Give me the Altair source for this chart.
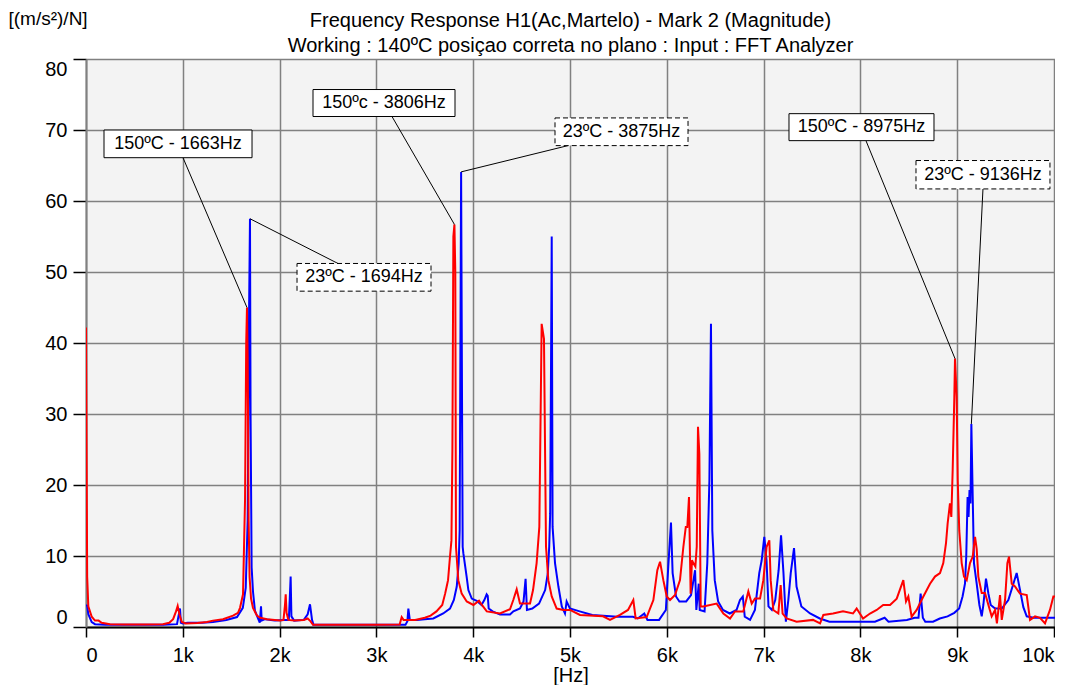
import altair as alt
import pandas as pd

FONT = "Liberation Sans"

# ---- series: 150ºC (red) ----
red_hz = [0, 12, 24, 59, 93, 130, 162, 248, 400, 600, 795, 860, 900, 930, 947, 965, 990, 1030, 1150, 1250,
          1312, 1415, 1519, 1570, 1591, 1622, 1643, 1655, 1663, 1670, 1680, 1690, 1705, 1725, 1766, 1800, 1870,
          2004, 2040, 2055, 2063, 2072, 2090, 2150, 2250, 2290, 2320, 2345, 2600, 3000, 3240, 3261, 3280, 3400,
          3500, 3560, 3620, 3680, 3710, 3726, 3740, 3760, 3775, 3785, 3795, 3806, 3815, 3822, 3846, 3881, 3933,
          4002, 4060, 4080, 4140, 4277, 4380, 4414, 4449, 4483, 4587, 4618, 4655, 4683, 4707, 4731, 4752, 4776,
          4811, 4862, 4931, 5000, 5103, 5341, 5413, 5516, 5599, 5654, 5678, 5792, 5861, 5902, 5930, 5964, 5999,
          6033, 6085, 6136, 6171, 6196, 6212, 6229, 6246, 6260, 6274, 6295, 6309, 6322, 6336, 6350, 6377, 6515,
          6584, 6653, 6704, 6790, 6842, 6877, 6911, 6963, 6997, 7031, 7059, 7073, 7100, 7152, 7176, 7196, 7238,
          7341, 7510, 7583, 7617, 7717, 7820, 7923, 7961, 8027, 8099, 8168, 8235, 8306, 8375, 8443, 8471, 8495,
          8529, 8581, 8650, 8719, 8770, 8822, 8856, 8884, 8901, 8925, 8939, 8953, 8970, 8977, 8994, 9005, 9021,
          9046, 9070, 9098, 9132, 9160, 9184, 9201, 9218, 9253, 9287, 9322, 9356, 9391, 9410, 9442, 9460, 9494,
          9518, 9535, 9563, 9597, 9649, 9718, 9752, 9804, 9855, 9907, 9958, 9993, 10010]
red_val = [42.2, 7.1, 2.9, 1.45, 0.9, 0.9, 0.6, 0.4, 0.35, 0.35, 0.4, 0.6, 1.1, 2.2, 2.95, 1.8, 0.7, 0.5, 0.55, 0.7,
           0.9, 1.1, 1.6, 2.0, 2.7, 4.6, 18.0, 40.0, 45.0, 38.0, 15.0, 7.0, 4.0, 2.7, 1.6, 1.3, 1.1,
           0.9, 1.0, 3.0, 4.6, 2.0, 1.0, 0.9, 1.0, 1.2, 0.8, 0.3, 0.3, 0.3, 0.35, 1.4, 1.0, 1.0,
           1.3, 1.6, 2.2, 3.1, 4.7, 5.7, 6.6, 9.9, 12.2, 25.0, 55.0, 56.7, 50.0, 11.3, 6.6, 4.7, 3.6,
           3.1, 3.7, 3.3, 2.2, 1.9, 2.5, 3.8, 5.3, 3.3, 3.3, 5.2, 9.0, 14.1, 42.7, 40.6, 11.3, 6.6,
           4.3, 2.6, 2.4, 2.4, 1.7, 1.5, 1.0, 1.7, 2.4, 3.8, 1.2, 1.4, 3.8, 8.0, 9.2, 6.6, 4.3,
           3.8, 4.5, 6.6, 11.3, 14.1, 14.1, 18.3, 4.7, 9.4, 9.0, 8.5, 11.3, 28.2, 24.4, 2.9, 2.9, 3.3,
           1.9, 1.2, 2.2, 2.2, 5.0, 3.3, 4.0, 4.0, 6.6, 11.3, 12.2, 6.6, 2.4, 1.9, 5.9, 1.9, 1.2,
           0.75, 1.0, 0.5, 1.7, 1.9, 2.2, 1.9, 2.6, 1.2, 1.9, 2.4, 3.1, 3.1, 4.0, 6.6, 3.6, 4.3,
           1.45, 2.4, 4.3, 6.1, 7.1, 7.6, 9.0, 11.8, 14.6, 17.4, 15.5, 22.1, 32.4, 37.8, 32.4, 20.7, 13.6,
           9.0, 7.1, 6.6, 9.0, 9.9, 12.7, 11.0, 7.1, 4.8, 4.8, 3.1, 1.5, 2.4, 0.5, 4.5, 1.0, 3.8,
           9.0, 9.9, 6.1, 5.7, 4.7, 4.5, 1.0, 1.5, 1.3, 0.5, 2.4, 4.3, 4.3]

# ---- series: 23ºC (blue) ----
blue_hz = [0, 12, 24, 59, 93, 200, 500, 800, 940, 955, 971, 980, 1000, 1050, 1200, 1312, 1450, 1560, 1620, 1650,
           1670, 1685, 1694, 1700, 1711, 1725, 1745, 1780, 1795, 1808, 1815, 1850, 1950, 2050, 2095, 2105, 2114,
           2122, 2150, 2250, 2290, 2314, 2335, 2350, 2600, 3000, 3300, 3320, 3330, 3345, 3420, 3500, 3588, 3690,
           3760, 3800, 3830, 3850, 3860, 3868, 3875, 3885, 3891, 3898, 3932, 3950, 3985, 4036, 4085, 4115, 4139,
           4150, 4160, 4200, 4277, 4380, 4415, 4483, 4520, 4541, 4555, 4610, 4680, 4743, 4770, 4785, 4795, 4803,
           4811, 4820, 4845, 4880, 4915, 4948, 4965, 4999, 5100, 5230, 5490, 5650, 5700, 5767, 5800, 5920, 5990,
           6015, 6043, 6060, 6095, 6130, 6200, 6250, 6280, 6292, 6305, 6330, 6340, 6390, 6418, 6440, 6456, 6470,
           6495, 6530, 6580, 6650, 6720, 6756, 6785, 6805, 6860, 6910, 6955, 6980, 7007, 7030, 7050, 7085, 7120,
           7155, 7180, 7205, 7230, 7255, 7280, 7314, 7340, 7390, 7480, 7580, 7680, 7950, 8150, 8250, 8290, 8480,
           8560, 8600, 8622, 8645, 8670, 8750, 8820, 8900, 8970, 9020, 9055, 9080, 9093, 9107, 9117, 9127, 9137,
           9146, 9160, 9173, 9201, 9229, 9253, 9270, 9297, 9322, 9346, 9391, 9460, 9528, 9580, 9614, 9649, 9683,
           9718, 9786, 10010]
blue_val = [3.1, 3.0, 1.8, 0.7, 0.4, 0.3, 0.3, 0.3, 0.4, 1.5, 2.6, 0.6, 0.5, 0.6, 0.6, 0.7, 1.0, 1.4, 2.7, 5.5,
            15.0, 45.0, 57.5, 30.0, 8.4, 5.0, 2.3, 1.1, 0.6, 2.9, 0.9, 1.1, 0.9, 1.0, 1.0, 4.0, 7.1,
            1.5, 0.9, 1.0, 1.8, 3.2, 1.0, 0.3, 0.3, 0.3, 0.3, 0.8, 2.6, 1.0, 1.0, 1.1, 1.2, 1.9,
            2.6, 3.8, 5.7, 9.0, 13.6, 40.0, 64.1, 30.0, 11.3, 10.4, 7.1, 5.2, 4.0, 3.7, 3.1, 3.8, 4.6,
            4.4, 2.6, 2.2, 1.75, 1.75, 2.2, 2.6, 3.6, 6.8, 2.4, 2.6, 3.3, 5.2, 7.5, 11.3, 16.0, 34.7,
            55.0, 14.1, 9.0, 5.7, 2.9, 1.9, 3.6, 2.6, 2.2, 1.7, 1.45, 1.45, 1.2, 1.9, 1.0, 1.0, 2.4,
            8.5, 14.7, 7.6, 4.3, 3.6, 3.6, 4.5, 7.0, 8.0, 2.4, 6.1, 2.4, 2.2, 9.0, 20.7, 42.7, 13.6,
            6.6, 3.6, 2.4, 1.9, 2.4, 3.8, 4.3, 1.45, 1.0, 2.4, 7.6, 9.4, 12.7, 9.4, 2.9, 2.4, 3.8,
            8.0, 12.9, 7.6, 0.75, 3.8, 7.6, 11.1, 5.7, 2.9, 1.9, 1.2, 0.75, 0.75, 0.75, 1.3, 0.75, 1.0,
            1.3, 1.3, 4.7, 1.3, 0.75, 0.75, 1.2, 1.5, 2.0, 2.6, 4.3, 6.1, 9.9, 18.3, 15.5, 19.3, 17.4,
            28.6, 18.3, 9.0, 6.1, 3.1, 1.5, 3.1, 6.8, 4.7, 3.1, 2.6, 2.6, 3.8, 6.1, 7.6, 5.2, 2.8,
            1.5, 1.3, 1.3]

# ---- annotations (data space) ----
ann_text = ["150ºC - 1663Hz", "23ºC - 1694Hz", "150ºc - 3806Hz", "23ºC - 3875Hz", "150ºC - 8975Hz", "23ºC - 9136Hz"]
ann_dashed = [False, True, False, True, False, True]
ann_x0 = [186, 2180, 2345, 4845, 7262, 8574]
ann_x1 = [1715, 3564, 3812, 6219, 8760, 9958]
ann_y0 = [66.1, 47.3, 71.9, 67.8, 68.5, 61.7]
ann_y1 = [70.0, 51.2, 75.7, 71.7, 72.3, 65.7]
lead_x = [1002, 2603, 3161, 4979, 8057, 9266]
lead_y = [66.1, 51.2, 71.9, 67.8, 68.5, 61.7]
peak_x = [1663, 1694, 3806, 3875, 8977, 9146]
peak_y = [45.0, 57.5, 56.7, 64.1, 37.8, 28.6]

x_ticks = list(range(0, 10001, 1000))
y_ticks = list(range(0, 81, 10))

red_df = pd.DataFrame({"hz": red_hz, "val": red_val})
blue_df = pd.DataFrame({"hz": blue_hz, "val": blue_val})
ann_df = pd.DataFrame({"text": ann_text, "dashed": ann_dashed, "x0": ann_x0, "x1": ann_x1,
                       "y0": ann_y0, "y1": ann_y1, "lx": lead_x, "ly": lead_y,
                       "px": peak_x, "py": peak_y})
ann_df["tx"] = (ann_df["x0"] + ann_df["x1"]) / 2
ann_df["ty"] = (ann_df["y0"] + ann_df["y1"]) / 2

xscale = alt.Scale(domain=[0, 10010], nice=False, zero=False)
yscale = alt.Scale(domain=[0, 80], nice=False)

xaxis = alt.Axis(values=x_ticks, labelExpr="datum.value == 0 ? '0' : (datum.value/1000) + 'k'",
                 labelFlush=True, grid=True, gridColor="#808080", gridWidth=1.5,
                 domainColor="#000000", domainWidth=2, tickColor="#000000", tickSize=10, tickWidth=1.5,
                 labelFontSize=20, labelFont=FONT, labelColor="#000000", labelPadding=8,
                 title="[Hz]", titleFontSize=20, titleFont=FONT, titleFontWeight="normal",
                 titleColor="#000000", titlePadding=0)
yaxis = alt.Axis(values=y_ticks, labelFlush=True, grid=True, gridColor="#808080", gridWidth=1.5,
                 domainColor="#808080", domainWidth=2, tickColor="#000000", tickSize=13, tickWidth=1.5,
                 labelFontSize=20, labelFont=FONT, labelColor="#000000", labelPadding=6,
                 title="[(m/s²)/N]", titleAngle=0, titleAlign="left", titleBaseline="middle",
                 titleX=-78, titleY=-41, titleFontSize=19, titleFont=FONT, titleFontWeight="normal",
                 titleColor="#000000")

base_x = alt.X("hz:Q", scale=xscale, axis=xaxis)
base_y = alt.Y("val:Q", scale=yscale, axis=yaxis)

blue_line = alt.Chart(blue_df).mark_line(color="#0000ff", strokeWidth=2, clip=True).encode(x=base_x, y=base_y)
red_line = alt.Chart(red_df).mark_line(color="#ff0000", strokeWidth=2, clip=True).encode(x="hz:Q", y="val:Q")

leaders = alt.Chart(ann_df).mark_rule(color="#000000", strokeWidth=1).encode(
    x="lx:Q", y="ly:Q", x2="px:Q", y2="py:Q")

boxes_solid = alt.Chart(ann_df).transform_filter("!datum.dashed").mark_rect(
    fill="#ffffff", stroke="#000000", strokeWidth=1).encode(x="x0:Q", x2="x1:Q", y="y0:Q", y2="y1:Q")
boxes_dashed = alt.Chart(ann_df).transform_filter("datum.dashed").mark_rect(
    fill="#ffffff", stroke="#000000", strokeWidth=1, strokeDash=[5, 3]).encode(
    x="x0:Q", x2="x1:Q", y="y0:Q", y2="y1:Q")
labels = alt.Chart(ann_df).mark_text(font=FONT, fontSize=18, color="#000000", align="center",
                                     baseline="middle").encode(x="tx:Q", y="ty:Q", text="text:N")

chart = alt.layer(blue_line, red_line, leaders, boxes_solid, boxes_dashed, labels).properties(
    width=969, height=568,
    padding={"left": 78, "top": 51, "right": 0, "bottom": 58},
    autosize=alt.AutoSizeParams(type="none"),
    background="#ffffff",
    title=alt.TitleParams(
        text="Frequency Response H1(Ac,Martelo) - Mark 2 (Magnitude)",
        subtitle="Working : 140ºC posiçao correta no plano : Input : FFT Analyzer",
        font=FONT, subtitleFont=FONT, fontSize=20, subtitleFontSize=20, fontWeight="normal",
        color="#000000", subtitleColor="#000000", anchor="middle", offset=5, subtitlePadding=5,
        dy=52),
).configure_view(fill="#f3f3f3", stroke="transparent")

chart.save("out.html", embed_options={"renderer": "svg", "actions": False})
